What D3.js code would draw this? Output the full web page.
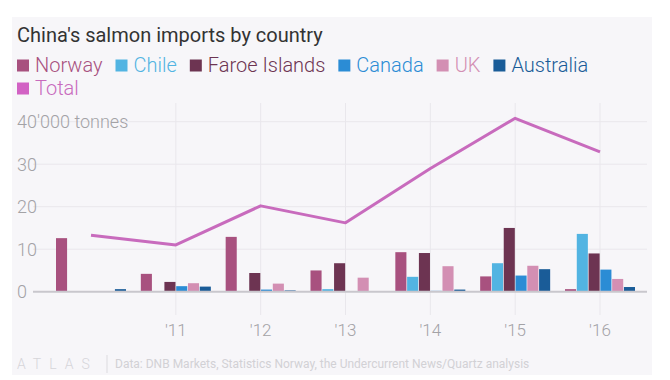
<!DOCTYPE html>
<html>
<head>
<meta charset="utf-8">
<script src="https://cdn.jsdelivr.net/npm/d3@7"></script>
<style>
  html, body { margin: 0; padding: 0; background: #ffffff; }
  svg { display: block; font-family: Roboto, "Open Sans", sans-serif; }
</style>
</head>
<body>
<svg id="chart" width="670" height="380"></svg>
<script>
// ---- data ----
const years = [2010, 2011, 2012, 2013, 2014, 2015, 2016];
const tickYears = [2011, 2012, 2013, 2014, 2015, 2016];
const tickLabels = ["'11", "'12", "'13", "'14", "'15", "'16"];
const yTicks = [0, 10, 20, 30, 40];
const yTickLabels = ["0", "10", "20", "30", "40'000 tonnes"];

const norway    = [12.6, 4.2, 12.9, 5.0, 9.3, 3.6, 0.6];
const chile     = [0.1, 0.1, 0.1, 0.6, 3.5, 6.7, 13.6];
const faroe     = [0.0, 2.3, 4.4, 6.7, 9.1, 15.0, 9.0];
const canada    = [0.1, 1.3, 0.5, 0.1, 0.2, 3.8, 5.2];
const uk        = [0.1, 2.0, 1.9, 3.3, 6.0, 6.1, 3.0];
const australia = [0.6, 1.2, 0.3, 0.1, 0.5, 5.3, 1.1];
const total     = [13.3, 11.0, 20.2, 16.2, 29.0, 40.8, 32.9];

const seriesNames = ["Norway", "Chile", "Faroe Islands", "Canada", "UK", "Australia"];
const seriesValues = [norway, chile, faroe, canada, uk, australia];
const seriesColors = ["#a8517f", "#52b4e2", "#6d3452", "#2b8cd5", "#d38fb3", "#1a5c98"];
const totalColor = "#c86bbd";
const totalLegendColor = "#d262c4";

// ---- drawing ----
const svg = d3.select("#chart");

svg.append("rect")
  .attr("x", 12).attr("y", 17).attr("width", 640).attr("height", 358)
  .attr("fill", "#f7f6f9");

svg.append("text")
  .attr("x", 17).attr("y", 42)
  .attr("font-size", 20)
  .attr("fill", "#333333")
  .text("China's salmon imports by country");

// legend
const legendItems = seriesNames.map((n, i) => ({name: n, color: seriesColors[i], text: seriesColors[i]}))
  .concat([{name: "Total", color: totalLegendColor, text: totalColor}]);
const legend = svg.append("g");
let lx = 17, ly = 72;
legendItems.forEach(item => {
  const g = legend.append("g");
  const t = g.append("text")
    .attr("font-size", 20)
    .attr("font-weight", 300)
    .attr("fill", item.text)
    .text(item.name);
  const w = t.node().getComputedTextLength();
  if (lx + 18 + w > 640) { lx = 17; ly += 23; }
  g.append("rect").attr("x", lx).attr("y", ly - 12.5).attr("width", 12).attr("height", 12).attr("fill", item.color);
  t.attr("x", lx + 18).attr("y", ly);
  lx += 18 + w + 13;
});

// scales
const x = d3.scaleLinear().domain([2010, 2016]).range([91, 600]);
const y = d3.scaleLinear().domain([0, 40]).range([291.7, 121.7]);
const inner = d3.scaleBand().domain(seriesNames).range([-35, 35]).paddingInner(0.06);

const gridL = 33, gridR = 647;

// horizontal grid
svg.append("g").selectAll("line")
  .data(yTicks.filter(d => d > 0))
  .join("line")
  .attr("x1", gridL).attr("x2", gridR)
  .attr("y1", d => y(d)).attr("y2", d => y(d))
  .attr("stroke", "#e9e7ec").attr("stroke-width", 1);

// vertical grid
svg.append("g").selectAll("line")
  .data(tickYears)
  .join("line")
  .attr("x1", d => x(d)).attr("x2", d => x(d))
  .attr("y1", 103).attr("y2", 315)
  .attr("stroke", "#e9e7ec").attr("stroke-width", 1);

// y labels
svg.append("g").selectAll("text")
  .data(yTicks)
  .join("text")
  .attr("x", 17)
  .attr("y", d => y(d))
  .attr("dy", "0.35em")
  .attr("font-size", 18)
  .attr("font-weight", 300)
  .attr("fill", "#a3a2a6")
  .text((d, i) => yTickLabels[i]);

// bars
const barG = svg.append("g");
seriesNames.forEach((name, si) => {
  barG.append("g").selectAll("rect")
    .data(years.map((yr, i) => ({yr, v: seriesValues[si][i]})))
    .join("rect")
    .attr("x", d => x(d.yr) + inner(name))
    .attr("width", inner.bandwidth())
    .attr("y", d => y(d.v))
    .attr("height", d => y(0) - y(d.v))
    .attr("fill", seriesColors[si]);
});

// baseline
svg.append("line")
  .attr("x1", gridL).attr("x2", gridR)
  .attr("y1", y(0)).attr("y2", y(0))
  .attr("stroke", "#c9c7cd").attr("stroke-width", 2);

// total line
const line = d3.line().x((d, i) => x(years[i])).y(d => y(d));
svg.append("path")
  .datum(total)
  .attr("d", line)
  .attr("fill", "none")
  .attr("stroke", totalColor)
  .attr("stroke-width", 3)
  .attr("stroke-linejoin", "round");

// x labels
svg.append("g").selectAll("text")
  .data(tickYears)
  .join("text")
  .attr("x", d => x(d))
  .attr("y", 330)
  .attr("dy", "0.35em")
  .attr("text-anchor", "middle")
  .attr("font-size", 17)
  .attr("font-weight", 300)
  .attr("fill", "#a3a2a6")
  .text((d, i) => tickLabels[i]);

// footer
svg.append("text")
  .attr("x", 17).attr("y", 369)
  .attr("font-size", 14)
  .attr("font-weight", 300)
  .attr("letter-spacing", 8)
  .attr("fill", "#d6d5d9")
  .text("ATLAS");
svg.append("line")
  .attr("x1", 107).attr("x2", 107).attr("y1", 355).attr("y2", 373)
  .attr("stroke", "#dcdbdf").attr("stroke-width", 1);
svg.append("text")
  .attr("x", 115).attr("y", 368)
  .attr("font-size", 12)
  .attr("fill", "#d2d1d5")
  .text("Data: DNB Markets, Statistics Norway, the Undercurrent News/Quartz analysis");
</script>
</body>
</html>
